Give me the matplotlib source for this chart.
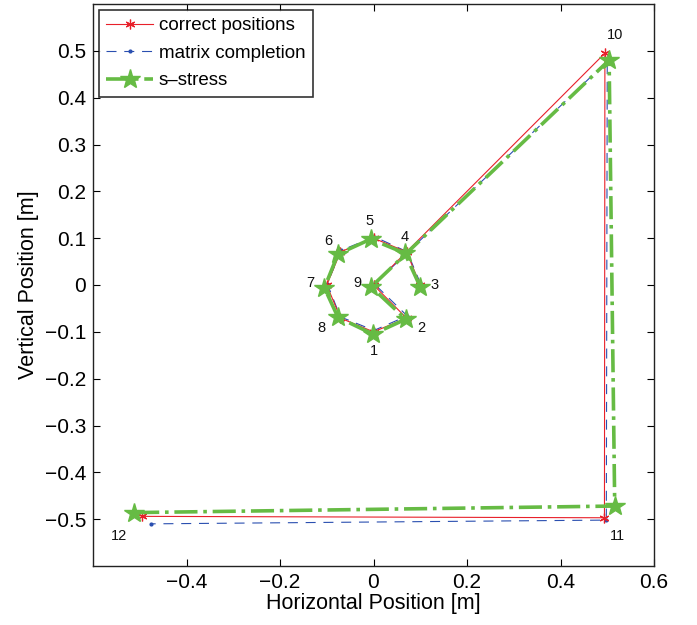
import matplotlib
matplotlib.use("Agg")
import matplotlib.pyplot as plt

plt.rcParams['font.family'] = ['Liberation Sans', 'DejaVu Sans']

# Path order of the nodes
order = [3, 4, 5, 6, 7, 8, 1, 2, 9, 10, 11, 12]

correct_x = [0.100, 0.0707, 0.000, -0.0707, -0.100, -0.0707, 0.000, 0.0707, 0.000, 0.495, 0.494, -0.495]
correct_y = [0.000, 0.0707, 0.100, 0.0707, 0.000, -0.0707, -0.100, -0.0707, 0.000, 0.495, -0.497, -0.494]

mc_x = [0.101, 0.072, 0.002, -0.069, -0.099, -0.071, 0.001, 0.072, 0.002, 0.500, 0.498, -0.477]
mc_y = [0.002, 0.071, 0.103, 0.074, 0.003, -0.068, -0.097, -0.066, 0.002, 0.478, -0.502, -0.510]

ss_x = [0.100, 0.067, -0.006, -0.076, -0.105, -0.076, -0.001, 0.069, -0.005, 0.504, 0.516, -0.512]
ss_y = [-0.004, 0.068, 0.098, 0.066, -0.006, -0.069, -0.105, -0.073, -0.004, 0.480, -0.472, -0.486]

label_text = ['3', '4', '5', '6', '7', '8', '1', '2', '9', '10', '11', '12']
label_x = [0.131, 0.067, -0.008, -0.096, -0.135, -0.111, 0.000, 0.103, -0.034, 0.516, 0.522, -0.544]
label_y = [0.000, 0.103, 0.136, 0.093, 0.005, -0.091, -0.141, -0.091, 0.005, 0.534, -0.537, -0.537]

xticks = [-0.4, -0.2, 0, 0.2, 0.4, 0.6]
yticks = [-0.5, -0.4, -0.3, -0.2, -0.1, 0, 0.1, 0.2, 0.3, 0.4, 0.5]

fig = plt.figure(figsize=(6.97, 6.25), dpi=100)
ax = fig.add_axes([93/697, 1 - 566/625, (654-93)/697, (566-4)/625])

green = '#66bb44'
ax.plot(correct_x, correct_y, '-', color='#e8202a', lw=0.8, marker=(6, 2, 0), ms=7,
        mew=0.9, label='correct positions', zorder=3)
ax.plot(mc_x, mc_y, color='#2a4fb0', lw=0.8, marker='.', ms=4,
        linestyle=(0, (9, 7)), label='matrix completion', zorder=2)
ax.plot(ss_x, ss_y, '-.', color=green, lw=2.6, marker='*', ms=15,
        mfc=green, mec=green, label='s\u2013stress', zorder=4)

for t, x, y in zip(label_text, label_x, label_y):
    ax.text(x, y, t, fontsize=10.5, ha='center', va='center', color='#111111')

ax.set_xlim(-0.6, 0.6)
ax.set_ylim(-0.6, 0.6)
ax.set_xticks(xticks)
ax.set_yticks(yticks)
ax.set_xticklabels(['\u22120.4', '\u22120.2', '0', '0.2', '0.4', '0.6'])
ax.set_yticklabels([('\u2212' + f'{abs(v):g}') if v < 0 else f'{v:g}' for v in yticks])
ax.tick_params(direction='in', top=True, right=True, labelsize=15, length=5, width=0.8, pad=5)
for s in ax.spines.values():
    s.set_linewidth(1.0)
    s.set_color('#222222')

ax.set_xlabel('Horizontal Position [m]', fontsize=15.5, labelpad=1)
ax.set_ylabel('Vertical Position [m]', fontsize=15.5, labelpad=4)

leg = ax.legend(loc='upper left', fontsize=13.5, frameon=True, fancybox=False,
                borderaxespad=0.3, handlelength=2.5, handletextpad=0.3,
                labelspacing=0.55, borderpad=0.4)
leg.get_frame().set_edgecolor('black')
leg.get_frame().set_linewidth(1.2)

fig.savefig('out.png', dpi=100)
